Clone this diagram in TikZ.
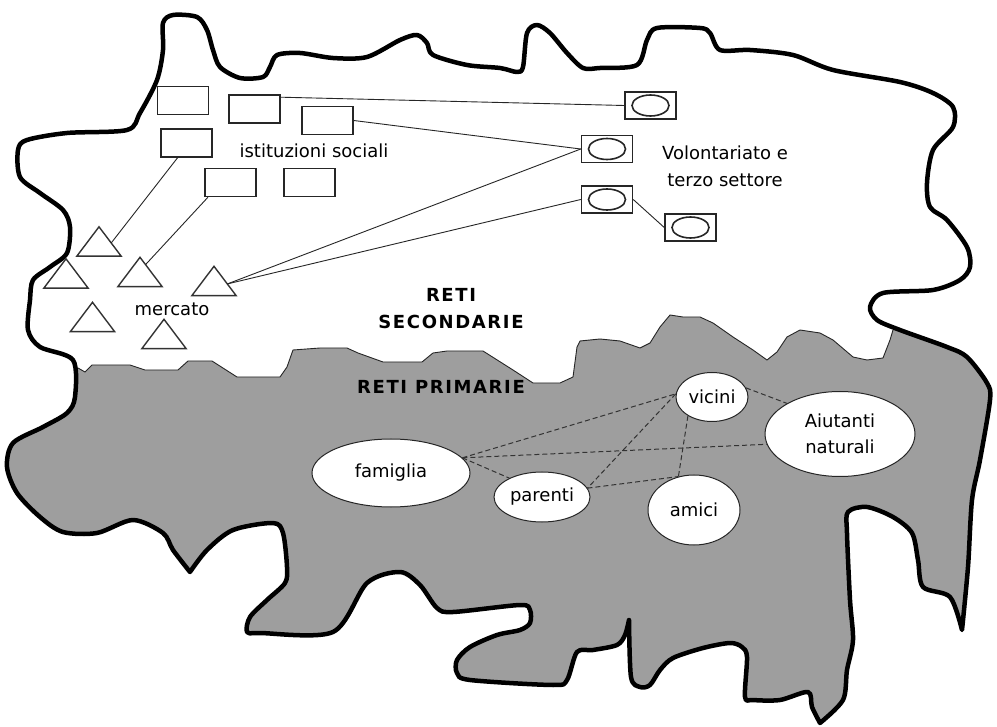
\documentclass[tikz,border=0pt]{standalone}
\usepackage{fontspec}
\setmainfont{DejaVu Sans}
\newfontfamily\headfont[LetterSpace=9]{DejaVu Sans}
\usetikzlibrary{shapes.geometric,calc}
\definecolor{regiongray}{RGB}{158,158,158}

% outer border of the whole territory, drawn in pieces so the sharp tips stay sharp
\newcommand\territorypath{%
  plot[smooth,tension=.5] coordinates {(962,630) (950,597) (923,587) (918,560) (912,533) (893,517) (867,507) (848,512) (847,533) (850,600) (853,640) (847,670) (843,700) (820,723)}
  -- plot[smooth,tension=.5] coordinates {(820,723) (812,707) (808,692) (780,700) (753,700) (745,697) (747,657) (742,647) (730,643) (703,648) (673,658) (660,670) (650,685) (640,687) (631,677) (629,620)}
  -- plot[smooth,tension=.5] coordinates {(629,620) (625,635) (617,645) (593,650) (577,652) (567,680) (553,685) (470,680) (457,673) (457,660) (470,647) (497,635) (520,630) (530,623) (530,610) (520,605) (453,612) (437,608) (420,585) (400,572) (367,583) (333,632) (260,633) (247,632) (250,617) (267,600) (285,583) (287,567) (283,533) (273,523) (233,530) (207,550) (190,572)}
  -- plot[smooth,tension=.5] coordinates {(190,572) (173,550) (163,533) (133,520) (97,533) (63,532) (40,517) (17,493) (7,467) (13,443) (43,427) (67,413) (75,397) (73,360) (40,347) (28,330) (30,300) (33,280) (50,267) (67,253) (70,227) (63,210) (40,193) (20,177) (18,150) (27,140) (67,133) (127,130) (140,113) (157,80) (163,50) (163,23) (173,15) (197,17) (207,30) (213,50) (220,67) (240,78) (263,77) (270,67) (277,55) (300,53) (333,58) (367,57) (400,40) (417,35) (427,43) (433,55) (467,65) (500,68) (517,72) (523,67) (527,33) (537,25) (550,33) (567,53) (583,68) (600,68) (637,65) (647,40) (657,28) (700,28) (710,33) (720,50) (750,50) (793,55) (833,70) (900,82) (933,93) (953,107) (953,127) (933,150) (927,183) (930,207) (947,220) (967,247) (970,267) (960,280) (933,290) (883,293) (870,307) (877,320) (900,330) (947,347) (967,357) (987,383) (990,400) (980,460) (972,500) (968,567) (962,630)}
  -- cycle}

% ragged line that separates secondary from primary networks
\newcommand\dividerline{%
  (60,368) -- (78,368) -- (85,372) -- (92,365) -- (130,365) -- (145,370) -- (178,370) -- (188,361) -- (212,361) -- (237,377) -- (280,377) -- (287,367) -- (293,350) -- (320,348) -- (347,348) -- (358,353) -- (383,362) -- (422,362) -- (433,353) -- (447,351) -- (483,351) -- (513,370) -- (533,383) -- (560,383) -- (573,377) -- (577,347) -- (580,341) -- (600,339) -- (620,341) -- (640,348) -- (650,343) -- (660,327) -- (670,315) -- (683,317) -- (700,317) -- (713,323) -- (733,337) -- (753,350) -- (767,360) -- (777,352) -- (787,337) -- (800,330) -- (820,333) -- (833,340) -- (853,357) -- (867,360) -- (883,358) -- (890,340) -- (893,330)}

\begin{document}
\begin{tikzpicture}[x=1pt,y=-1pt,
  border/.style={line width=4.5pt, line join=round, black},
  instbox/.style={rectangle, draw=black!85, line width=1.5pt, minimum width=51pt, minimum height=28pt, inner sep=0pt},
  volbox/.style={instbox, minimum height=27pt,
    path picture={\draw[line width=1.6pt, black!85] (path picture bounding box.center) ellipse [x radius=18.5pt, y radius=10.5pt];}},
  tribox/.style={rectangle, minimum width=44pt, minimum height=29pt, inner sep=0pt},
  triline/.style={draw=black!80, line width=1.4pt, line join=miter},
  link/.style={black!85, line width=0.9pt},
  tie/.style={black!80, line width=1pt, dash pattern=on 5pt off 3pt},
  person/.style={ellipse, draw=black!85, line width=1pt, fill=white, inner sep=0pt, align=center, font=\fontsize{18}{26}\selectfont},
  labeltext/.style={inner sep=0pt, align=center, font=\fontsize{18}{27}\selectfont},
  headtext/.style={inner sep=0pt, align=center, font=\headfont\bfseries\fontsize{18}{27}\selectfont}]

\useasboundingbox (0,0) rectangle (997,727);
\fill[white] (0,0) rectangle (997,727);

% primary-network area: grey below the ragged divider, inside the border
\begin{scope}
  \clip \territorypath;
  \fill[regiongray] \dividerline -- (1000,330) -- (1000,727) -- (0,727) -- (0,368) -- cycle;
  \draw[black!85, line width=0.9pt] \dividerline;
\end{scope}
\draw[border] \territorypath;

% social institutions
\node[instbox] (b1) at (183,100.5) {};
\node[instbox] (b2) at (254.5,109) {};
\node[instbox] (b3) at (327.5,120.5) {};
\node[instbox] (b4) at (186.5,143) {};
\node[instbox] (b5) at (230.5,182.5) {};
\node[instbox] (b6) at (309.5,182.5) {};
\node[labeltext] (istlabel) at (314,151) {istituzioni sociali};

% voluntary sector
\node[volbox] (v1) at (650.5,105.5) {};
\node[volbox] (v2) at (607,149) {};
\node[volbox] (v3) at (607,199.5) {};
\node[volbox] (v4) at (690.5,227.5) {};
\node[labeltext] (vollabel) at (725,166) {Volontariato e\\terzo settore};

% market
\node[tribox] (t1) at (99,241.5) {};
\node[tribox] (t2) at (66,273.5) {};
\node[tribox] (t3) at (140,272) {};
\node[tribox] (t4) at (214,281) {};
\node[tribox] (t5) at (92.5,317) {};
\node[tribox] (t6) at (164,334) {};
\foreach \t in {t1,t2,t3,t4,t5,t6}
  \draw[triline] (\t.south west) -- (\t.north) -- (\t.south east) -- cycle;
\node[labeltext] (mktlabel) at (172,309) {mercato};

% links among secondary networks
\draw[link] ($(b2.north east)!0.1!(b2.south east)$) -- (v1.west);
\draw[link] (b3.east) -- (v2.west);
\draw[link] ($(t4.north)!0.6!(t4.south east)$) -- (v2.west);
\draw[link] ($(t4.north)!0.6!(t4.south east)$) -- (v3.west);
\draw[link] (v3.east) -- (v4.west);
\draw[link] ($(b4.south west)!0.33!(b4.south east)$) -- ($(t1.north)!0.55!(t1.south east)$);
\draw[link] ($(b5.south west)!0.07!(b5.south east)$) -- ($(t3.north)!0.25!(t3.south east)$);

% section titles
\node[headtext] (seclabel) at (451,309) {RETI\\SECONDARIE};
\node[headtext] (primlabel) at (441,387) {RETI PRIMARIE};

% primary networks
\node[person, minimum width=158pt, minimum height=68pt] (fam) at (391,473) {famiglia};
\node[person, minimum width=96pt, minimum height=50pt] (par) at (542,497) {parenti};
\node[person, minimum width=72pt, minimum height=49pt] (vic) at (712,397) {vicini};
\node[person, minimum width=150pt, minimum height=85pt] (aiu) at (840,434) {Aiutanti\\naturali};
\node[person, minimum width=92pt, minimum height=70pt] (ami) at (694,510) {amici};

\draw[tie] (fam.12) -- (vic.175);
\draw[tie] (fam.12) -- (aiu.188);
\draw[tie] (fam.12) -- (par.150);
\draw[tie] (vic.175) -- (par.11);
\draw[tie] (vic.218) -- (ami.115);
\draw[tie] (par.11) -- (ami.115);
\draw[tie] (vic.15) -- (aiu.150);
\end{tikzpicture}
\end{document}
